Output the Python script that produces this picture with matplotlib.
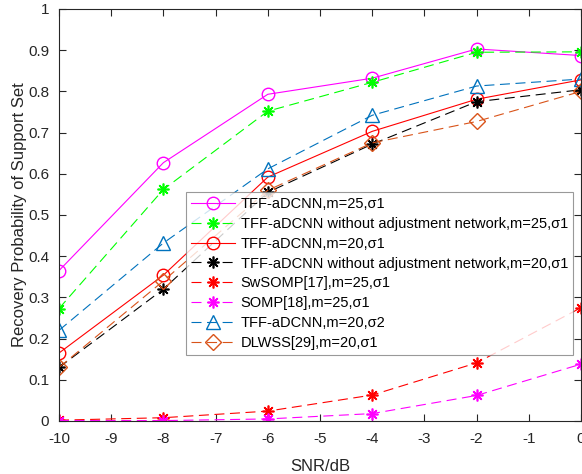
import matplotlib
matplotlib.use('Agg')
import matplotlib.pyplot as plt

plt.rcParams['font.family'] = ['Liberation Sans', 'DejaVu Sans']
plt.rcParams['axes.unicode_minus'] = False

snr = [-10, -8, -6, -4, -2, 0]

tff_m25 = [0.365, 0.627, 0.793, 0.832, 0.903, 0.887]
tff_noadj_m25 = [0.273, 0.562, 0.752, 0.822, 0.895, 0.896]
tff_m20 = [0.165, 0.354, 0.592, 0.703, 0.781, 0.828]
tff_noadj_m20 = [0.130, 0.320, 0.555, 0.672, 0.775, 0.804]
swsomp = [0.002, 0.008, 0.024, 0.063, 0.141, 0.275]
somp = [0.001, 0.001, 0.005, 0.018, 0.062, 0.138]
tff_m20_s2 = [0.220, 0.432, 0.612, 0.742, 0.813, 0.830]
dlwss = [0.130, 0.340, 0.560, 0.675, 0.727, 0.800]

labels = ['TFF-aDCNN,m=25,σ1',
          'TFF-aDCNN without adjustment network,m=25,σ1',
          'TFF-aDCNN,m=20,σ1',
          'TFF-aDCNN without adjustment network,m=20,σ1',
          'SwSOMP[17],m=25,σ1',
          'SOMP[18],m=25,σ1',
          'TFF-aDCNN,m=20,σ2',
          'DLWSS[29],m=20,σ1']

fig = plt.figure(figsize=(5.82, 4.74), dpi=100)
ax = fig.add_axes([59 / 582, 53 / 474, 522 / 582, 412 / 474])

lw = 0.8
dash = (0, (9, 5))
star = (8, 2, 0)  # asterisk with 8 spokes
ax.plot(snr, tff_m25, '-', color='#FF00FF', lw=lw, marker='o', ms=9, mfc='none', mew=1.0, label=labels[0])
ax.plot(snr, tff_noadj_m25, color='#00FF00', ls=dash, lw=lw, marker=star, ms=8.5, mew=1.2, label=labels[1])
ax.plot(snr, tff_m20, '-', color='#FF0000', lw=lw, marker='o', ms=9, mfc='none', mew=1.0, label=labels[2])
ax.plot(snr, tff_noadj_m20, color='k', ls=dash, lw=lw, marker=star, ms=8.5, mew=1.2, label=labels[3])
ax.plot(snr, swsomp, color='#FF0000', ls=dash, lw=lw, marker=star, ms=8.5, mew=1.2, label=labels[4])
ax.plot(snr, somp, color='#FF00FF', ls=dash, lw=lw, marker=star, ms=8.5, mew=1.2, label=labels[5])
ax.plot(snr, tff_m20_s2, color='#0072BD', ls=dash, lw=lw, marker='^', ms=10, mfc='none', mew=1.0, label=labels[6])
ax.plot(snr, dlwss, color='#D95319', ls=dash, lw=lw, marker='D', ms=8, mfc='none', mew=1.0, label=labels[7])

ax.set_xlim(-10, 0)
ax.set_ylim(0, 1)
ax.set_xticks(range(-10, 1))
ax.set_yticks([i / 10 for i in range(11)])
ax.set_yticklabels(['0'] + ['%.1f' % (i / 10) for i in range(1, 10)] + ['1'])
ax.tick_params(direction='in', top=True, right=True, labelsize=11, length=5, width=0.8, colors='#262626')
ax.tick_params(axis='x', pad=8)
ax.tick_params(axis='y', pad=7)
for s in ax.spines.values():
    s.set_linewidth(0.8)
    s.set_color('#262626')
ax.set_xlabel('SNR/dB', fontsize=12, color='#262626', labelpad=9)
ax.set_ylabel('Recovery Probability of Support Set', fontsize=12, color='#262626', labelpad=1)

leg = ax.legend(loc='upper left', bbox_to_anchor=(0.243, 0.556), borderaxespad=0,
                fontsize=10.5, frameon=True, fancybox=False, edgecolor='#808080',
                handlelength=3.0, labelspacing=0.4, borderpad=0.35, handletextpad=0.4)
leg.get_frame().set_linewidth(0.8)

fig.savefig('out.png', dpi=100)
